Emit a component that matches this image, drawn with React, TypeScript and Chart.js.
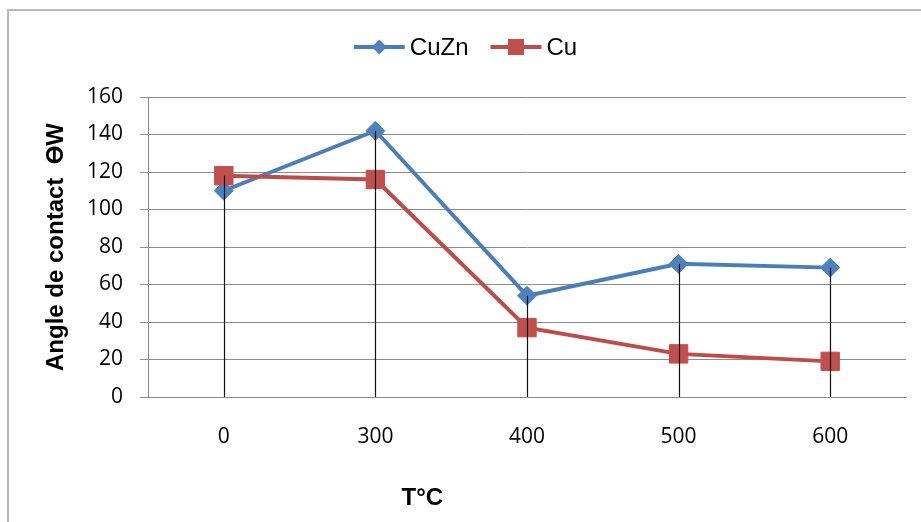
import React, { useEffect, useRef } from 'react';
import { Chart, registerables } from 'chart.js';

Chart.register(...registerables);

const categories = ['0', '300', '400', '500', '600'];
const cuZnValues = [110, 142, 54, 71, 69];
const cuValues = [118, 116, 37, 23, 19];
const yTickValues = [0, 20, 40, 60, 80, 100, 120, 140, 160];
const seriesNames = ['CuZn', 'Cu'];
const yTitle = 'Angle de contact  ϴW';
const xTitle = 'T°C';

const BLUE_LINE = '#4A7EBB';
const BLUE_FILL = '#4F81BD';
const RED_LINE = '#BE4B48';
const RED_FILL = '#C0504D';
const GRID = '#8c8c8c';
const TICK_FONT = '"Open Sans", "DejaVu Sans", sans-serif';
const TEXT_FONT = '"Liberation Sans", Arial, sans-serif';

const dropLinesPlugin = {
  id: 'dropLines',
  afterDatasetsDraw(chart: any) {
    const { ctx, scales } = chart;
    const xs = scales.x;
    const ys = scales.y;
    ctx.save();
    ctx.strokeStyle = '#111';
    ctx.lineWidth = 1.2;
    categories.forEach((_, i) => {
      const top = Math.max(...chart.data.datasets.map((d: any) => d.data[i]));
      const px = Math.round(xs.getPixelForValue(i)) + 0.5;
      ctx.beginPath();
      ctx.moveTo(px, ys.getPixelForValue(top));
      ctx.lineTo(px, ys.getPixelForValue(0));
      ctx.stroke();
    });
    ctx.restore();
  },
};

const legendPlugin = {
  id: 'customLegend',
  afterDraw(chart: any) {
    const { ctx } = chart;
    ctx.save();
    ctx.font = `24px ${TEXT_FONT}`;
    const lineLen = 51;
    const gapText = 5;
    const gapItems = 22;
    const items = chart.data.datasets.map((ds: any) => ({
      ds,
      w: lineLen + gapText + ctx.measureText(ds.label).width,
    }));
    const total = items.reduce((s: number, it: any) => s + it.w, 0) + gapItems * (items.length - 1);
    let x = chart.width / 2 + 5 - total / 2;
    const y = 47;
    items.forEach(({ ds, w }: any) => {
      ctx.strokeStyle = ds.borderColor;
      ctx.lineWidth = 4;
      ctx.beginPath();
      ctx.moveTo(x, y);
      ctx.lineTo(x + lineLen, y);
      ctx.stroke();
      const cx = x + lineLen / 2;
      ctx.fillStyle = ds.pointBackgroundColor;
      ctx.beginPath();
      if (ds.pointStyle === 'rectRot') {
        const r = 7.5;
        ctx.moveTo(cx - r, y);
        ctx.lineTo(cx, y - r);
        ctx.lineTo(cx + r, y);
        ctx.lineTo(cx, y + r);
        ctx.closePath();
      } else {
        const s = 16;
        ctx.rect(cx - s / 2, y - s / 2, s, s);
      }
      ctx.fill();
      ctx.fillStyle = '#000';
      ctx.textAlign = 'left';
      ctx.textBaseline = 'middle';
      ctx.fillText(ds.label, x + lineLen + gapText, y + 1);
      x += w + gapItems;
    });
    ctx.restore();
  },
};

const xTitlePlugin = {
  id: 'xTitle',
  afterDraw(chart: any) {
    const { ctx, chartArea } = chart;
    ctx.save();
    ctx.font = `bold 24px ${TEXT_FONT}`;
    ctx.fillStyle = '#000';
    ctx.textAlign = 'center';
    ctx.textBaseline = 'middle';
    ctx.fillText(xTitle, chartArea.left + chartArea.width * 0.362, chartArea.bottom + 101);
    ctx.restore();
  },
};

export default function App() {
  const canvasRef = useRef<HTMLCanvasElement | null>(null);

  useEffect(() => {
    const canvas = canvasRef.current;
    if (!canvas) return;
    const chart = new Chart(canvas, {
      type: 'line',
      data: {
        labels: categories,
        datasets: [
          {
            label: seriesNames[0],
            data: cuZnValues,
            borderColor: BLUE_LINE,
            backgroundColor: BLUE_FILL,
            pointBackgroundColor: BLUE_FILL,
            pointBorderColor: BLUE_FILL,
            pointStyle: 'rectRot',
            pointRadius: 9.5,
            pointBorderWidth: 1,
            borderWidth: 4,
            tension: 0,
            order: 1,
          },
          {
            label: seriesNames[1],
            data: cuValues,
            borderColor: RED_LINE,
            backgroundColor: RED_FILL,
            pointBackgroundColor: RED_FILL,
            pointBorderColor: RED_FILL,
            pointStyle: 'rect',
            pointRadius: 13,
            pointBorderWidth: 1,
            borderWidth: 4,
            tension: 0,
            order: 0,
          },
        ],
      },
      options: {
        responsive: false,
        animation: false,
        events: [],
        layout: { padding: { top: 97, right: 15, bottom: 0, left: 0 } },
        plugins: {
          legend: { display: false },
          tooltip: { enabled: false },
          title: { display: false },
        },
        scales: {
          x: {
            offset: true,
            grid: { display: false, drawTicks: false },
            border: { display: true, color: GRID, width: 1 },
            ticks: {
              color: '#000',
              font: { family: TICK_FONT, size: 21 },
              padding: 27,
              maxRotation: 0,
            },
            afterFit(scale: any) {
              scale.height = 125;
            },
          },
          y: {
            min: 0,
            max: 160,
            afterBuildTicks(scale: any) {
              scale.ticks = yTickValues.map((v) => ({ value: v }));
            },
            grid: { color: GRID, lineWidth: 1, drawTicks: true, tickLength: 8 },
            border: { display: true, color: GRID, width: 1 },
            ticks: {
              color: '#000',
              font: { family: TICK_FONT, size: 21 },
              padding: 17,
            },
            title: {
              display: true,
              text: yTitle,
              color: '#000',
              font: { family: TEXT_FONT, size: 24, weight: 'bold' },
              padding: { top: 42, bottom: 0 },
            },
            afterFit(scale: any) {
              scale.width = 148;
            },
          },
        },
      },
      plugins: [dropLinesPlugin, legendPlugin, xTitlePlugin],
    } as any);
    return () => chart.destroy();
  }, []);

  return (
    <div style={{ position: 'fixed', left: 0, top: 0, width: 921, height: 522, background: '#fff', overflow: 'hidden' }}>
      <div
        style={{
          position: 'absolute',
          left: 7,
          top: 9,
          width: 940,
          height: 540,
          border: '2px solid #b9b9b9',
          boxSizing: 'border-box',
        }}
      />
      <canvas
        ref={canvasRef}
        width={921}
        height={522}
        style={{ position: 'absolute', left: 0, top: 0, width: 921, height: 522 }}
      />
    </div>
  );
}
